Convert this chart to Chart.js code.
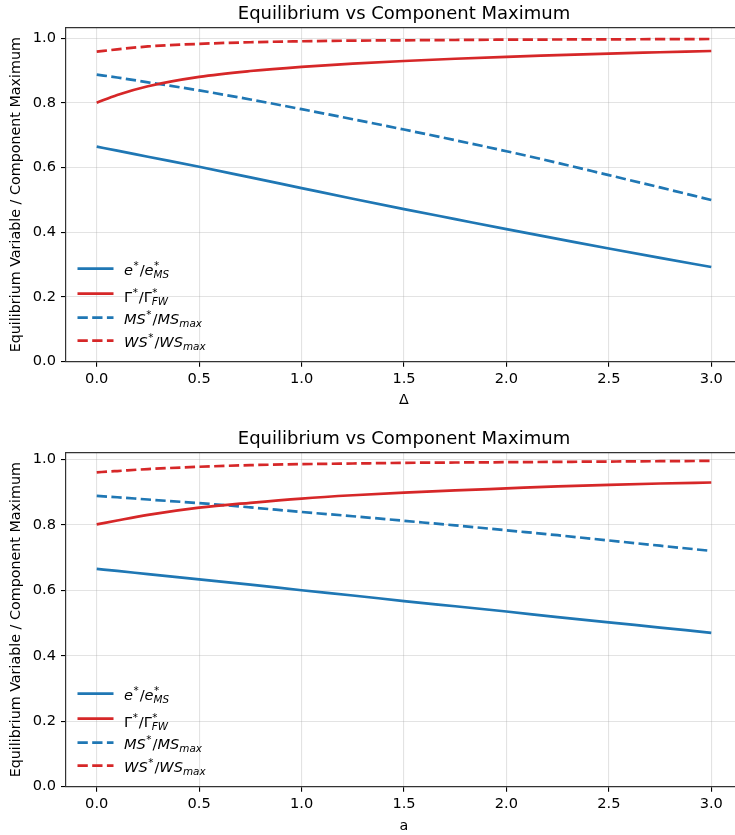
<!DOCTYPE html>
<html>
<head>
<meta charset="utf-8">
<script src="https://cdn.jsdelivr.net/npm/chart.js@4.4.1/dist/chart.umd.min.js"></script>
<style>
  html, body { margin: 0; padding: 0; background: #fff; overflow: hidden; }
  #wrap { width: 735px; height: 835px; overflow: hidden; position: relative; }
  canvas { display: block; }
</style>
</head>
<body>
<div id="wrap">
  <canvas id="c1" width="742" height="425"></canvas>
  <canvas id="c2" width="742" height="410"></canvas>
</div>
<script>
// ---------- data ----------
const xValues = [0.0, 0.1, 0.25, 0.5, 0.75, 1.0, 1.25, 1.5, 1.75, 2.0, 2.25, 2.5, 2.75, 3.0];
const xTicks = [0.0, 0.5, 1.0, 1.5, 2.0, 2.5, 3.0];
const yTicks = [0.0, 0.2, 0.4, 0.6, 0.8, 1.0];
const seriesNames = ['e*/e*_MS', 'Γ*/Γ*_FW', 'MS*/MS_max', 'WS*/WS_max'];

// top panel (x = Δ)
const eTop  = [0.665, 0.653, 0.634, 0.603, 0.570, 0.537, 0.504, 0.472, 0.441, 0.410, 0.380, 0.350, 0.321, 0.293];
const gTop  = [0.801, 0.825, 0.852, 0.881, 0.899, 0.912, 0.922, 0.930, 0.937, 0.943, 0.948, 0.953, 0.957, 0.961];
const msTop = [0.888, 0.879, 0.864, 0.839, 0.811, 0.781, 0.750, 0.718, 0.685, 0.651, 0.615, 0.577, 0.539, 0.500];
const wsTop = [0.959, 0.966, 0.975, 0.983, 0.988, 0.991, 0.993, 0.994, 0.995, 0.996, 0.9965, 0.997, 0.9975, 0.998];

// bottom panel (x = a)
const eBot  = [0.665, 0.659, 0.649, 0.633, 0.617, 0.600, 0.584, 0.567, 0.551, 0.535, 0.518, 0.502, 0.486, 0.470];
const gBot  = [0.801, 0.813, 0.830, 0.852, 0.867, 0.880, 0.890, 0.898, 0.905, 0.911, 0.917, 0.922, 0.926, 0.929];
const msBot = [0.888, 0.884, 0.877, 0.866, 0.853, 0.839, 0.826, 0.812, 0.798, 0.783, 0.768, 0.752, 0.736, 0.720];
const wsBot = [0.960, 0.964, 0.970, 0.977, 0.982, 0.985, 0.987, 0.989, 0.990, 0.991, 0.992, 0.993, 0.994, 0.995];

const chartTitle = 'Equilibrium vs Component Maximum';
const yTitle = 'Equilibrium Variable / Component Maximum';

// ---------- styling ----------
const BLUE = '#1f77b4', RED = '#d62728';
const FONT = 'DejaVu Sans';
const DASH = [10.3, 4.4];
const LW = 2.7;
const TICK_SIZE = 14.6;
const LABEL_SIZE = 14.3;
const TITLE_SIZE = 18;
const LEG_SIZE = 14.6;
const SCRIPT_SIZE = 10.4;

// legend rich-text pieces
const legendParts = [
  [{t:'e', it:true}, {sup:'*'}, {t:'/'}, {t:'e', it:true}, {sup:'*', sub:'MS'}],
  [{t:'Γ'}, {sup:'*'}, {t:'/'}, {t:'Γ'}, {sup:'*', sub:'FW'}],
  [{t:'MS', it:true}, {sup:'*'}, {t:'/'}, {t:'MS', it:true}, {sub:'max'}],
  [{t:'WS', it:true}, {sup:'*'}, {t:'/'}, {t:'WS', it:true}, {sub:'max'}]
];
const legendColors = [BLUE, RED, BLUE, RED];
const legendDashed = [false, false, true, true];

function drawRich(ctx, x, y, parts) {
  let cx = x;
  ctx.textBaseline = 'alphabetic';
  ctx.textAlign = 'left';
  ctx.fillStyle = '#000';
  for (const p of parts) {
    if (p.t !== undefined) {
      ctx.font = (p.it ? 'italic ' : '') + LEG_SIZE + 'px "' + FONT + '"';
      ctx.fillText(p.t, cx, y);
      cx += ctx.measureText(p.t).width;
    } else {
      let w = 0;
      if (p.sup) {
        ctx.font = SCRIPT_SIZE + 'px "' + FONT + '"';
        ctx.fillText(p.sup, cx + 0.5, y - 5.5);
        w = Math.max(w, ctx.measureText(p.sup).width + 0.5);
      }
      if (p.sub) {
        ctx.font = 'italic ' + SCRIPT_SIZE + 'px "' + FONT + '"';
        ctx.fillText(p.sub, cx, y + 3);
        w = Math.max(w, ctx.measureText(p.sub).width);
      }
      cx += w + 1;
    }
  }
}

const legendPlugin = {
  id: 'mathLegend',
  afterDatasetsDraw(chart) {
    const {ctx, chartArea} = chart;
    const rows = [-93, -68, -44, -21];
    const baseOff = [6, 8, 6, 6];
    ctx.save();
    rows.forEach((dy, i) => {
      const y = chartArea.bottom + dy;
      ctx.beginPath();
      ctx.strokeStyle = legendColors[i];
      ctx.lineWidth = LW;
      ctx.setLineDash(legendDashed[i] ? DASH : []);
      ctx.moveTo(chartArea.left + 11.5, y);
      ctx.lineTo(chartArea.left + 47.5, y);
      ctx.stroke();
      ctx.setLineDash([]);
      drawRich(ctx, chartArea.left + 58, y + baseOff[i], legendParts[i]);
    });
    ctx.restore();
  }
};

const framePlugin = {
  id: 'frame',
  afterDraw(chart) {
    const {ctx, chartArea} = chart;
    ctx.save();
    ctx.strokeStyle = '#333';
    ctx.lineWidth = 1.2;
    ctx.beginPath();
    ctx.moveTo(chartArea.left - 0.6, chartArea.top);
    ctx.lineTo(chartArea.right, chartArea.top);
    ctx.lineTo(chartArea.right, chartArea.bottom);
    ctx.stroke();
    ctx.restore();
  }
};

function makeChart(id, xTitle, xs, series, yMax, xAxisHeight, xTitlePad) {
  const mk = (arr) => xs.map((x, i) => ({x: x, y: arr[i]}));
  const colors = [BLUE, RED, BLUE, RED];
  const dashed = [false, false, true, true];
  const datasets = series.map((arr, i) => ({
    label: seriesNames[i],
    data: mk(arr),
    borderColor: colors[i],
    backgroundColor: colors[i],
    borderWidth: LW,
    borderDash: dashed[i] ? DASH : [],
    pointRadius: 0,
    pointHoverRadius: 0,
    fill: false,
    cubicInterpolationMode: 'monotone',
    borderCapStyle: 'butt'
  }));
  return new Chart(document.getElementById(id), {
    type: 'line',
    data: {datasets},
    options: {
      responsive: false,
      animation: false,
      events: [],
      layout: {padding: {left: 0, right: 0, top: 0, bottom: 0}},
      plugins: {
        legend: {display: false},
        tooltip: {enabled: false},
        title: {
          display: true, text: chartTitle, fullSize: false,
          color: '#000', font: {family: FONT, size: TITLE_SIZE, weight: 'normal'},
          padding: {top: 3.6, bottom: 2.5}
        }
      },
      scales: {
        x: {
          type: 'linear', min: -0.15, max: 3.15,
          afterBuildTicks: (s) => { s.ticks = xTicks.map(v => ({value: v})); },
          afterFit: (s) => { s.height = xAxisHeight; },
          ticks: {
            callback: (v) => Number(v).toFixed(1),
            color: '#000', font: {family: FONT, size: TICK_SIZE}, padding: 4,
            maxRotation: 0, autoSkip: false
          },
          grid: {color: 'rgba(176,176,176,0.35)', lineWidth: 1.1, tickColor: '#000', tickLength: 5, tickWidth: 1.1},
          border: {color: '#333', width: 1.2},
          title: {display: true, text: xTitle, color: '#000', font: {family: FONT, size: LABEL_SIZE}, padding: {top: 0, bottom: xTitlePad}}
        },
        y: {
          type: 'linear', min: 0, max: yMax,
          afterBuildTicks: (s) => { s.ticks = yTicks.map(v => ({value: v})); },
          afterFit: (s) => { s.width = 66; },
          ticks: {
            callback: (v) => Number(v).toFixed(1),
            color: '#000', font: {family: FONT, size: TICK_SIZE}, padding: 5
          },
          grid: {color: 'rgba(176,176,176,0.35)', lineWidth: 1.1, tickColor: '#000', tickLength: 5, tickWidth: 1.1},
          border: {color: '#333', width: 1.2},
          title: {display: true, text: yTitle, color: '#000', font: {family: FONT, size: LABEL_SIZE}, padding: {top: 7.5, bottom: 0}}
        }
      }
    },
    plugins: [legendPlugin, framePlugin]
  });
}

makeChart('c1', 'Δ', xValues, [eTop, gTop, msTop, wsTop], 1.033, 63.3, 16.3);
makeChart('c2', 'a', xValues, [eBot, gBot, msBot, wsBot], 1.02, 48.3, 0.5);
</script>
</body>
</html>
